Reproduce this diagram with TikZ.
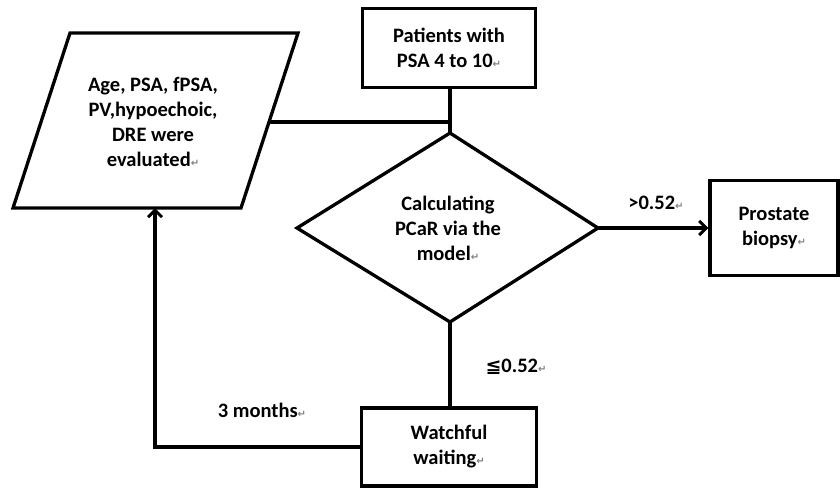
\documentclass[tikz,border=0pt]{standalone}
\usepackage{fontspec}
\setmainfont{Carlito}
\newfontfamily\symfont{DejaVu Sans}
\usetikzlibrary{arrows.meta}
\newcommand{\pmark}{{\symfont\fontsize{10}{10}\selectfont\textcolor{gray}{↵}}}
\tikzset{
  txt/.style={font=\bfseries\fontsize{20.5}{25}\selectfont, align=center, text=black},
  ln/.style={line width=3.3pt, draw=black},
  arr/.style={ln, -{Straight Barb[length=7pt,width=14pt,line width=3pt]}},
}
\begin{document}
\begin{tikzpicture}[x=1pt,y=-1pt]
\useasboundingbox (0,0) rectangle (840,488);
% shapes
\draw[ln] (70,33) -- (298,33) -- (241,208) -- (13,208) -- cycle;
\node[txt] (par) at (153,122) {Age, PSA, fPSA,\\PV,hypoechoic,\\DRE were\\evaluated\pmark};
\coordinate (parR) at (270,122);
\coordinate (parB) at (155,208);
\node[ln, draw, minimum width=173pt, minimum height=79pt, txt] (pat) at (449,48) {Patients with\\PSA 4 to 10\pmark};
\draw[ln] (450,133) -- (598,228) -- (450,322) -- (297,228) -- cycle;
\coordinate (dT) at (450,133);
\coordinate (dR) at (598,228);
\coordinate (dB) at (450,322);
\node[txt] (calc) at (448,228) {Calculating\\PCaR via the\\model\pmark};
\node[ln, draw, minimum width=128pt, minimum height=95pt, txt] (bio) at (774,228) {Prostate\\biopsy\pmark};
\node[ln, draw, minimum width=175pt, minimum height=78pt, txt] (ww) at (449,447) {Watchful\\waiting\pmark};
% connectors
\draw[ln] (pat.south -| dT) -- (dT);
\draw[ln] (parR) -- (parR -| dT);
\draw[arr] (dR) -- (bio.west);
\draw[ln] (dB) -- (ww.north -| dB);
\coordinate (corner) at (155,447);
\draw[arr] (ww.west) -- (corner) -- (parB);
% labels
\node[txt] (l1) at (656,203) {>0.52\pmark};
\node[txt] (l2) at (516,367) {{\symfont\fontsize{19}{19}\selectfont ≦}0.52\pmark};
\node[txt] (l3) at (262,410) {3 months\pmark};
\end{tikzpicture}
\end{document}
